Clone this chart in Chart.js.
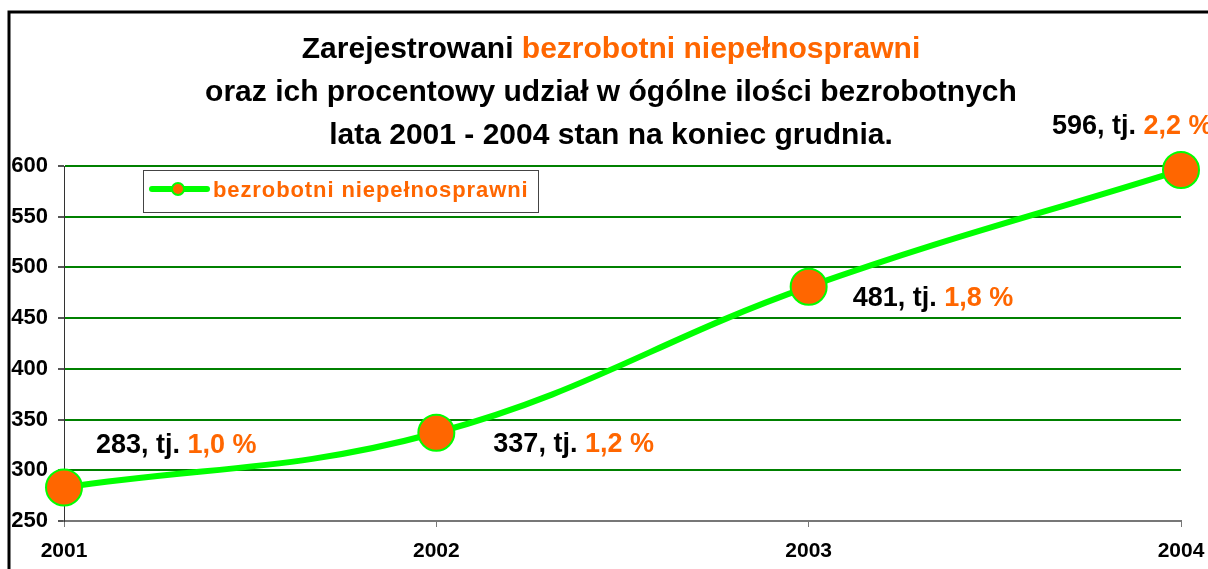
<!DOCTYPE html>
<html>
<head>
<meta charset="utf-8">
<script src="https://cdn.jsdelivr.net/npm/chart.js@4/dist/chart.umd.min.js"></script>
<style>
  html, body { margin: 0; padding: 0; background: #fff; }
  #wrap { width: 1208px; height: 569px; position: relative; }
</style>
</head>
<body>
<div id="wrap"><canvas id="myChart"></canvas></div>
<script>
// dane z wykresu
const years = ['2001', '2002', '2003', '2004'];
const bezrobotni = [283, 337, 481, 596];
const udzialProc = ['1,0', '1,2', '1,8', '2,2'];
const yMin = 250, yMax = 600, yStep = 50;

const titleLines = [
  [['Zarejestrowani ', '#000'], ['bezrobotni niepełnosprawni', '#FF6600']],
  [['oraz ich procentowy udział w ógólne ilości bezrobotnych', '#000']],
  [['lata 2001 - 2004 stan na koniec grudnia.', '#000']]
];
const seriesName = 'bezrobotni niepełnosprawni';

// przesunięcia etykiet względem punktów (układ)
const labelOffsets = [[32, -42], [57, 12], [44, 12], [-129, -44]];

const FONT = 'Arial, "Liberation Sans", sans-serif';
const ORANGE = '#FF6600';
const LIME = '#00FF00';

function drawParts(ctx, parts, x, y, align) {
  let total = 0;
  parts.forEach(p => { total += ctx.measureText(p[0]).width; });
  let cx = align === 'center' ? x - total / 2 : x;
  ctx.textAlign = 'left';
  parts.forEach(p => {
    ctx.fillStyle = p[1];
    ctx.fillText(p[0], cx, y);
    cx += ctx.measureText(p[0]).width;
  });
}

const extras = {
  id: 'extras',
  beforeDraw(chart) {
    const ctx = chart.ctx;
    ctx.save();
    ctx.fillStyle = '#fff';
    ctx.fillRect(0, 0, chart.width, chart.height);
    // ramka
    ctx.strokeStyle = '#000';
    ctx.lineWidth = 3;
    ctx.beginPath();
    ctx.moveTo(9, chart.height);
    ctx.lineTo(9, 12);
    ctx.lineTo(chart.width, 12);
    ctx.stroke();
    ctx.restore();
  },
  afterDraw(chart) {
    const ctx = chart.ctx;
    ctx.save();
    // tytuł
    ctx.font = 'bold 30px ' + FONT;
    ctx.textBaseline = 'middle';
    const titleY = [50, 93, 136];
    titleLines.forEach((line, i) => drawParts(ctx, line, 611, titleY[i], 'center'));

    // legenda
    ctx.fillStyle = '#fff';
    ctx.fillRect(143, 170, 395, 42);
    ctx.strokeStyle = '#444';
    ctx.lineWidth = 1;
    ctx.strokeRect(143.5, 170.5, 395, 42);
    ctx.strokeStyle = LIME;
    ctx.lineWidth = 6;
    ctx.lineCap = 'round';
    ctx.beginPath();
    ctx.moveTo(152, 189);
    ctx.lineTo(207, 189);
    ctx.stroke();
    ctx.beginPath();
    ctx.arc(178, 189, 6, 0, Math.PI * 2);
    ctx.fillStyle = ORANGE;
    ctx.fill();
    ctx.lineWidth = 2;
    ctx.stroke();
    ctx.font = 'bold 22px ' + FONT;
    ctx.letterSpacing = '0.9px';
    ctx.fillStyle = ORANGE;
    ctx.textAlign = 'left';
    ctx.fillText(seriesName, 213, 191);
    ctx.letterSpacing = '0px';

    // etykiety danych
    ctx.font = 'bold 27px ' + FONT;
    const meta = chart.getDatasetMeta(0);
    meta.data.forEach((pt, i) => {
      const off = labelOffsets[i];
      drawParts(ctx, [[bezrobotni[i] + ', tj. ', '#000'], [udzialProc[i] + ' %', ORANGE]],
        pt.x + off[0], pt.y + off[1], 'left');
    });
    ctx.restore();
  }
};

const ctx = document.getElementById('myChart').getContext('2d');
new Chart(ctx, {
  type: 'line',
  data: {
    labels: years,
    datasets: [{
      label: seriesName,
      data: bezrobotni,
      borderColor: LIME,
      borderWidth: 6,
      tension: 0.4,
      pointRadius: 18,
      pointHoverRadius: 18,
      pointBackgroundColor: ORANGE,
      pointBorderColor: LIME,
      pointBorderWidth: 2,
      clip: false
    }]
  },
  options: {
    responsive: true,
    maintainAspectRatio: false,
    animation: false,
    events: [],
    layout: { padding: { top: 166, right: 27, left: 0, bottom: 0 } },
    plugins: {
      legend: { display: false },
      title: { display: false },
      tooltip: { enabled: false }
    },
    scales: {
      x: {
        offset: false,
        grid: { drawOnChartArea: false, tickLength: 6, tickColor: '#777' },
        border: { color: '#777', width: 2 },
        ticks: { color: '#000', font: { family: FONT, size: 21, weight: 'bold' }, padding: 12, maxRotation: 0 },
        afterFit: s => { s.height = 48; s.paddingLeft = 0; s.paddingRight = 0; }
      },
      y: {
        min: yMin,
        max: yMax,
        grid: {
          color: c => (c.tick && c.tick.value === yMin) ? 'rgba(0,0,0,0)' : '#008000',
          lineWidth: 2,
          tickLength: 6,
          tickColor: '#555'
        },
        border: { color: '#333', width: 1 },
        ticks: { stepSize: yStep, color: '#000', font: { family: FONT, size: 22, weight: 'bold' }, padding: 10 },
        afterFit: s => { s.width = 64; s.paddingTop = 0; s.paddingBottom = 0; }
      }
    }
  },
  plugins: [extras]
});
</script>
</body>
</html>
